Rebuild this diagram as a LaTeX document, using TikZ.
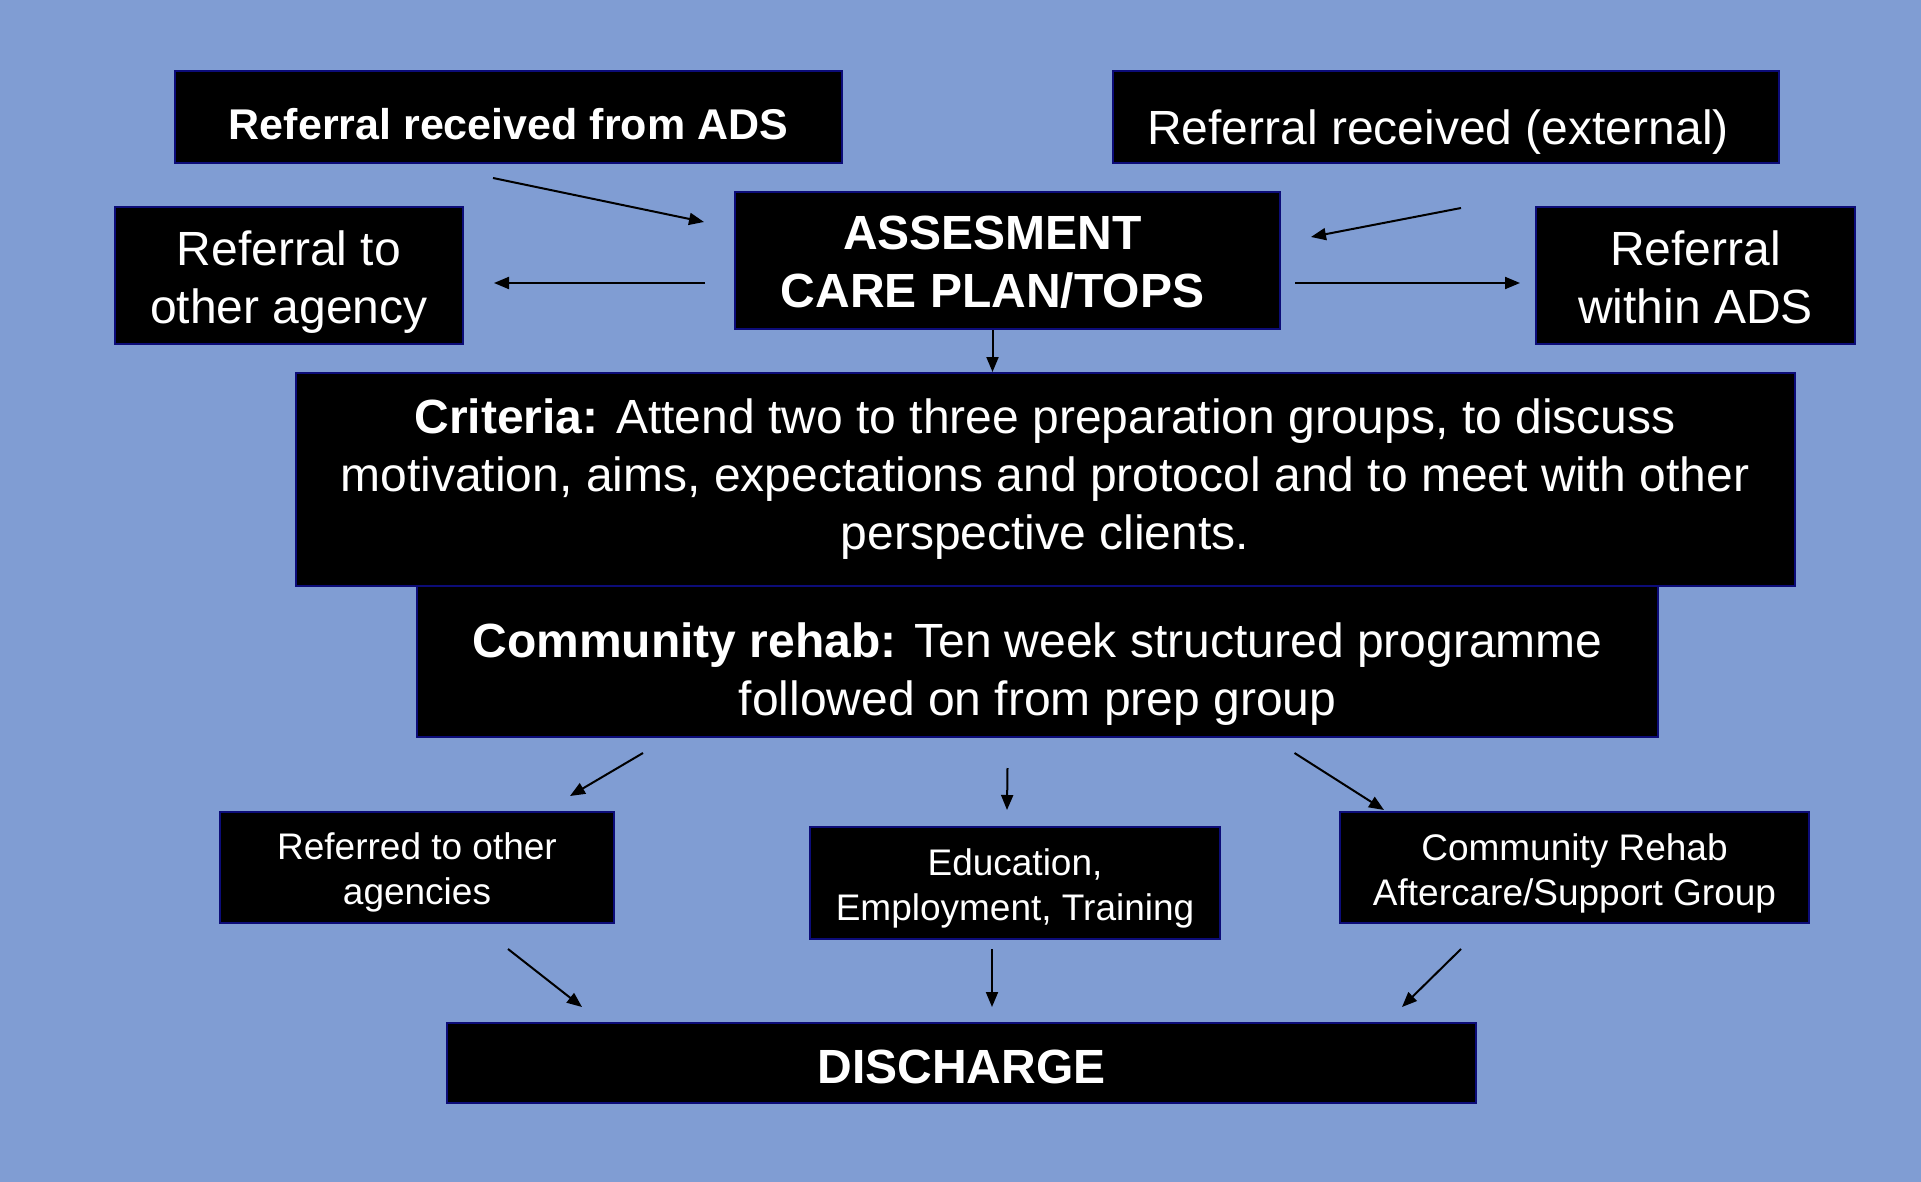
\documentclass[tikz,border=0pt]{standalone}
\usepackage{fontspec}
\setmainfont{Liberation Sans}
\usetikzlibrary{arrows.meta,calc}
\definecolor{slide}{RGB}{128,157,211}
\definecolor{edge}{RGB}{12,12,120}

\begin{document}
\begin{tikzpicture}[x=1pt,y=-1pt,line width=2pt,
		box/.style={draw=edge,fill=black,text=white,align=center,inner sep=0pt},
		big/.style={font=\fontsize{48}{58}\selectfont},
		small/.style={font=\fontsize{37}{45}\selectfont},
		arr/.style={-{Triangle[length=15pt,width=12pt]}}]
			\fill[slide] (0,0) rectangle (1921,1182);
			\node[box,font=\fontsize{43}{50}\selectfont\bfseries,minimum width=667pt,minimum height=92pt,text height=46pt,text depth=0pt] (ads) at (508.5,117){Referral received from ADS};
			\node[box,big,minimum width=666pt,minimum height=92pt,text height=56pt,text depth=0pt] (ext) at (1446,117){Referral received (external)\hspace*{16pt}};
			\node[box,font=\fontsize{48}{58}\selectfont\bfseries,minimum width=545pt,minimum height=137pt,text height=94pt] (assess) at (1007.5,260.5){ASSESMENT\hspace*{30pt}\\CARE PLAN/TOPS\hspace*{30pt}};
			\node[box,big,minimum width=348pt,minimum height=137pt,text height=105pt] (refout) at (289,275.5){Referral to\\other agency};
			\node[box,big,minimum width=319pt,minimum height=137pt,text height=95.5pt] (within) at (1695.5,275.5){Referral\\within ADS};
			\node[box,big,minimum width=1499pt,minimum height=213pt] (criteria) at (1045,479.5){\textbf{Criteria:} Attend two to three preparation groups, to discuss\\motivation, aims, expectations and protocol and to meet with other\\perspective clients.};
			\node[box,big,minimum width=1241pt,minimum height=151pt,text height=118.5pt] (rehab) at (1037.5,661.5){\textbf{Community rehab:} Ten week structured programme\\followed on from prep group};
			\node[box,small,minimum width=394pt,minimum height=111pt,text height=82pt] (agencies) at (417,867.5){Referred to other\\agencies};
			\node[box,small,minimum width=410pt,minimum height=112pt,text height=82pt] (edu) at (1015,883){Education,\\Employment, Training};
			\node[box,small,minimum width=469pt,minimum height=111pt,text height=84pt] (after) at (1574.5,867.5){Community Rehab\\Aftercare/Support Group};
			\node[box,font=\fontsize{48}{58}\selectfont\bfseries,minimum width=1029pt,minimum height=80pt,text height=41pt,text depth=0pt] (discharge) at (961.5,1063){DISCHARGE};
			\draw[arr] ($(ads.south)+(-15.5,14)$)--($(assess.west)+(-30,-38.5)$);
			\draw[arr] ($(ext.south)+(15,44)$)--($(assess.east)+(30,-23.5)$);
			\draw[arr] ($(assess.west)+(-29,22.5)$)--($(refout.east)+(30,7.5)$);
			\draw[arr] ($(assess.east)+(14,22.5)$)--($(within.west)+(-15,7.5)$);
			\draw[arr] ([xshift=-15pt]assess.south)--([xshift=-15pt]assess.south |- criteria.north);
			\draw[arr] ($(rehab.south west)+(227,15)$)--($(agencies.north)+(153,-15)$);
			\draw[arr] ($(rehab.south)+(-30,30)$)--($(edu.north)+(-8,-16)$);
			\draw[arr] ($(rehab.south)+(257,15)$)--($(after.north west)+(45,-1)$);
			\draw[arr] ($(agencies.south)+(91,25)$)--($(discharge.north west)+(136,-15)$);
			\draw[arr] ($(edu.south)+(-23,9)$)--($(discharge.north)+(30.5,-15)$);
			\draw[arr] ($(after.south)+(-113.5,25)$)--($(discharge.north east)+(-75,-15)$);
		\end{tikzpicture}
\end{document}
